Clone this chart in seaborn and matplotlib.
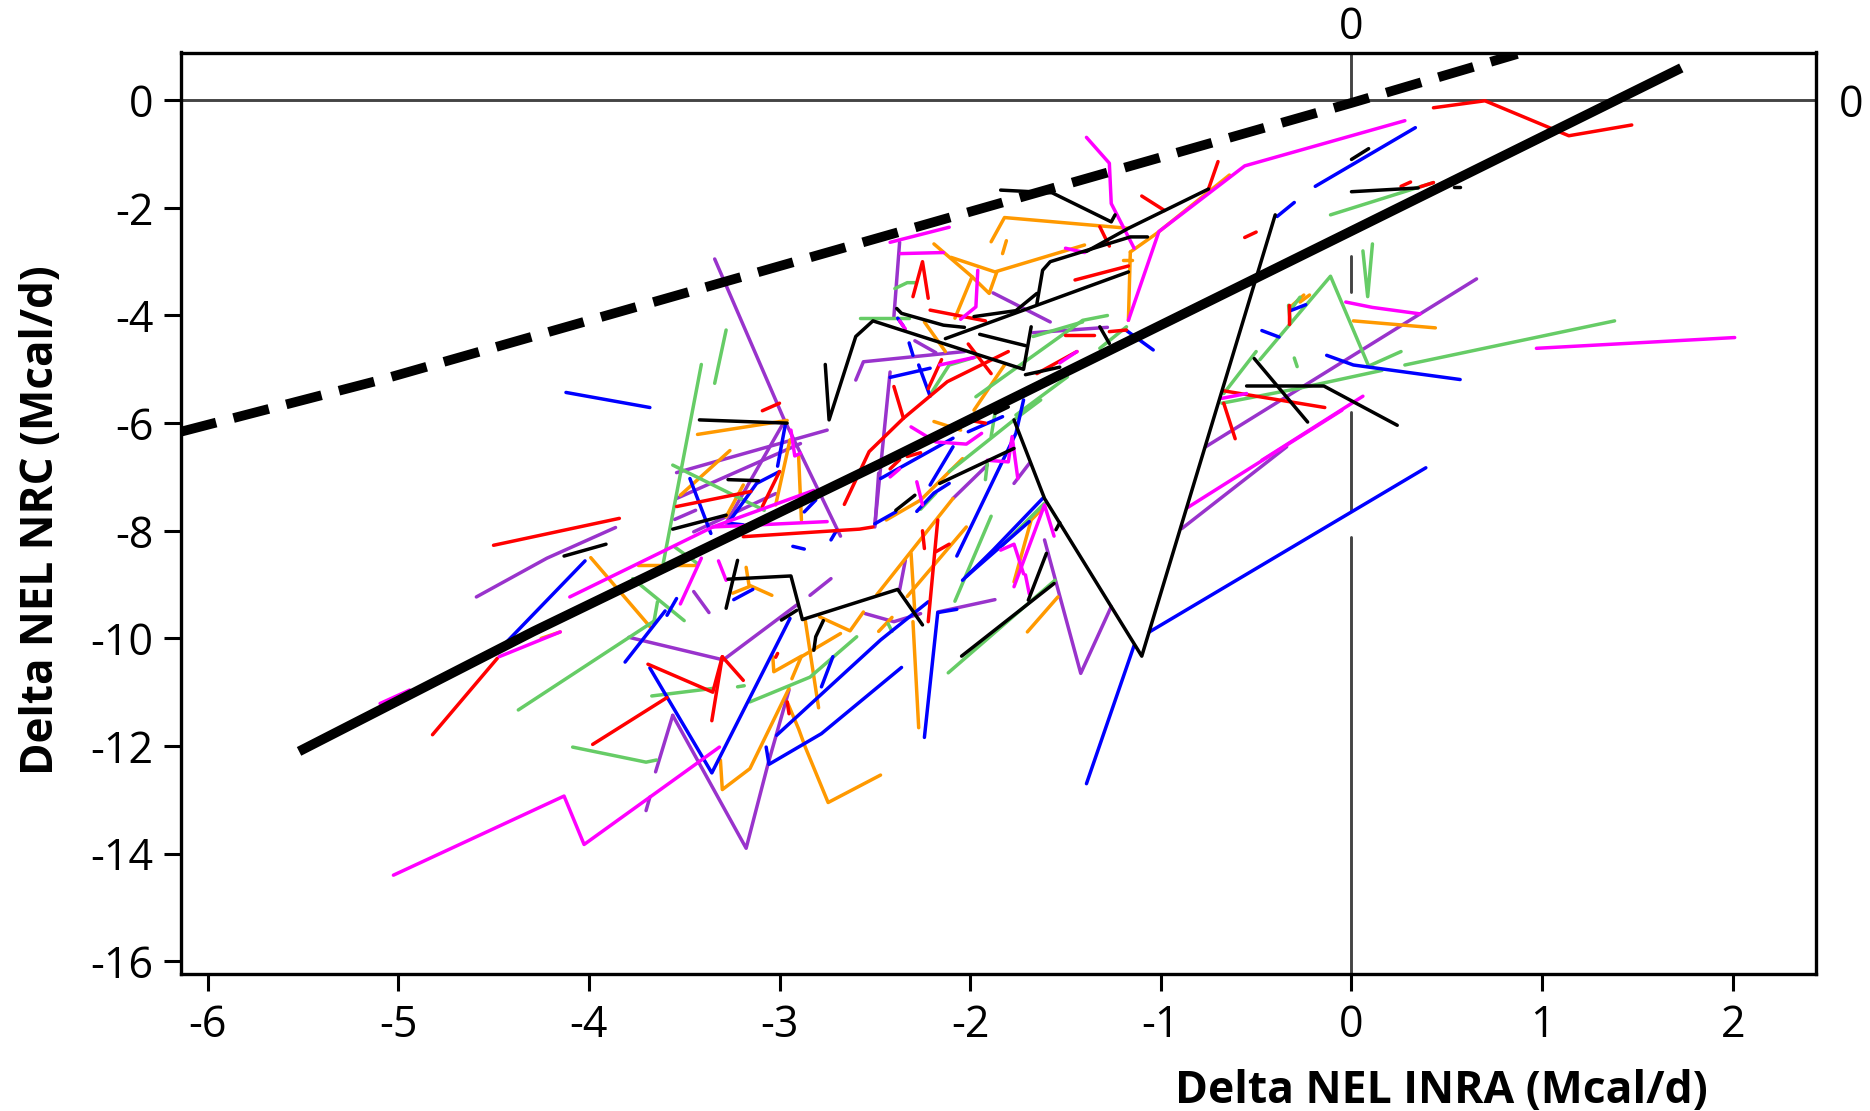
import matplotlib
matplotlib.use("Agg")
import matplotlib.pyplot as plt
import pandas as pd
import seaborn as sns

x_ticks = [-6, -5, -4, -3, -2, -1, 0, 1, 2]
y_ticks = [0, -2, -4, -6, -8, -10, -12, -14, -16]
x_label = "Delta NEL INRA (Mcal/d)"
y_label = "Delta NEL NRC (Mcal/d)"

regression_line = [(-5.52, -12.1), (-4.29, -9.87), (-2.47, -6.75), (0, -2.43), (1.73, 0.6)]
identity_line = [(-6.14, -6.16), (-5.095, -5.2), (0, -0.05), (0.87, 0.86)]
vref_visible = [(0.887, 0), (-2.9, -3.56), (-5.8, -7.62), (-8.11, -16.24)]

purple_lines = [
    [(-3.34, -2.95), (-2.98, -5.9), (-2.68, -8.1)],
    [(-3.54, -6.92), (-2.75, -6.13)], [(-3.54, -7.4), (-2.89, -6.38)], [(-2.98, -6.0), (-3.28, -7.86)],
    [(-3.55, -7.79), (-3.44, -7.62)], [(-3.45, -8.02), (-3.02, -7.31)],
    [(-4.59, -9.23), (-4.22, -8.51), (-3.86, -7.94)],
    [(-2.84, -9.2), (-2.73, -8.89)], [(-3.45, -9.13), (-3.37, -9.52)],
    [(-2.5, -7.93), (-2.48, -6.93)], [(-2.6, -5.2), (-2.56, -4.86), (-2.03, -4.67)],
    [(-3.56, -11.43), (-3.65, -12.48)],
    [(-3.56, -11.43), (-3.175, -13.9), (-3.06, -12.33), (-2.95, -10.96)],
    [(-3.79, -9.98), (-3.295, -10.4), (-2.91, -9.38)],
    [(-2.37, -2.64), (-2.40, -4.02)], [(-1.88, -3.58), (-1.58, -4.12)],
    [(-2.29, -4.47), (-2.18, -4.69)], [(-2.42, -5.05), (-2.5, -7.9)],
    [(-1.67, -4.32), (-1.28, -4.22)],
    [(-0.89, -7.96), (-0.34, -6.44)], [(-0.765, -6.44), (0.656, -3.32)],
    [(-1.61, -8.17), (-1.42, -10.65), (-1.26, -9.41)],
    [(-2.37, -9.1), (-2.34, -8.55)], [(-2.17, -9.51), (-1.87, -9.28)],
    [(-2.55, -9.54), (-2.4, -9.69), (-2.26, -9.54)],
    [(-2.09, -7.4), (-1.91, -6.78)], [(-1.77, -7.12), (-1.69, -6.75)],
    [(-3.7, -13.2), (-3.68, -12.95)],
]
orange_lines = [
    [(-3.43, -6.21), (-2.96, -5.95)], [(-2.945, -6.31), (-3.02, -7.52)], [(-2.9, -6.6), (-2.885, -7.8)],
    [(-3.52, -7.34), (-3.26, -6.51)], [(-3.19, -7.15), (-3.28, -7.74)],
    [(-3.99, -8.5), (-3.68, -9.78)], [(-3.74, -8.64), (-3.44, -8.64)],
    [(-3.175, -8.68), (-3.16, -9.01), (-3.04, -9.2)], [(-3.245, -9.16), (-3.16, -9.04)],
    [(-3.31, -12.26), (-3.3, -12.81), (-3.155, -12.42), (-2.95, -10.93)],
    [(-2.96, -11.18), (-2.9, -11.68), (-2.865, -12.02), (-2.745, -13.05), (-2.47, -12.54)],
    [(-2.795, -11.29), (-2.865, -9.66)],
    [(-3.035, -10.34), (-3.03, -10.62), (-2.885, -10.33), (-2.935, -10.75)],
    [(-2.885, -10.34), (-2.68, -9.91)], [(-2.79, -9.6), (-2.63, -9.86), (-2.56, -9.51)],
    [(-1.89, -2.63), (-1.82, -2.18), (-1.17, -2.38)], [(-1.81, -2.61), (-1.83, -2.85)],
    [(-2.19, -2.67), (-1.99, -3.28), (-2.08, -4.05)], [(-2.1, -2.92), (-1.87, -3.19), (-1.4, -2.69)],
    [(-1.99, -3.28), (-1.9, -3.59), (-1.86, -3.19)],
    [(-1.16, -2.82), (-1.17, -4.09)], [(-1.16, -2.82), (-1.02, -2.47), (-0.64, -1.39)],
    [(-1.2, -2.96), (-1.15, -2.96)], [(-2.24, -4.12), (-2.13, -4.67)], [(-1.82, -4.92), (-1.98, -5.76)],
    [(0.01, -4.1), (0.44, -4.23)], [(-0.31, -3.81), (-0.25, -3.62)], [(-0.27, -3.75), (-0.22, -3.62)],
    [(-1.70, -9.88), (-1.54, -9.23)], [(-1.77, -8.95), (-1.68, -7.8), (-1.61, -7.55)],
    [(-2.49, -9.19), (-2.09, -7.4)], [(-2.33, -9.22), (-2.02, -7.93)],
    [(-2.31, -8.42), (-2.29, -9.53)], [(-2.3, -9.69), (-2.27, -11.66)],
    [(-2.48, -9.87), (-2.41, -9.61)], [(-2.44, -7.8), (-2.26, -7.43), (-2.04, -6.66)],
    [(-2.19, -5.97), (-2.05, -6.13)], [(-4.25, -10.0), (-4.15, -9.88)],
]
green_lines = [
    [(-3.41, -4.91), (-3.61, -8.61)], [(-3.28, -4.27), (-3.34, -5.26)], [(-3.56, -6.78), (-3.08, -7.62)],
    [(-3.55, -8.3), (-3.43, -8.61)], [(-3.77, -8.89), (-3.5, -9.67)], [(-3.64, -9.32), (-3.66, -9.72)],
    [(-4.085, -12.02), (-3.7, -12.3), (-3.645, -12.26)], [(-3.67, -11.07), (-3.35, -10.93)],
    [(-4.37, -11.33), (-3.65, -9.66)], [(-3.155, -11.18), (-2.84, -10.72), (-2.595, -9.97)],
    [(-3.22, -10.9), (-3.185, -10.88)],
    [(-2.395, -3.5), (-2.33, -3.39), (-2.29, -3.39)], [(-2.58, -4.04), (-2.32, -4.04)],
    [(-2.2, -5.42), (-2.11, -4.92), (-1.97, -4.77)], [(-1.97, -5.51), (-1.41, -4.09), (-1.28, -4.0)],
    [(-1.32, -4.61), (-1.18, -4.21)], [(-1.49, -5.14), (-1.76, -5.85)], [(-1.67, -4.39), (-1.41, -4.12)],
    [(-0.11, -2.13), (0.43, -1.53)], [(0.06, -2.8), (0.085, -3.65), (0.11, -2.67)],
    [(-0.48, -4.82), (-0.11, -3.27), (0.09, -4.94), (0.26, -4.67)], [(-0.5, -4.67), (-0.67, -5.45)],
    [(-0.68, -5.63), (-0.285, -5.36), (0.16, -5.02)], [(0.28, -4.92), (1.38, -4.1)],
    [(-0.33, -3.81), (-0.32, -4.15)], [(-0.32, -3.9), (-0.27, -3.66)], [(-0.3, -4.79), (-0.285, -4.95)],
    [(-2.115, -10.64), (-1.555, -8.92)], [(-1.83, -8.27), (-1.61, -7.49)], [(-2.08, -9.31), (-1.89, -7.73)],
    [(-2.11, -6.9), (-1.77, -5.94), (-1.63, -5.57)], [(-1.92, -7.05), (-1.91, -6.75)],
    [(-2.43, -9.73), (-2.41, -9.87)], [(-2.26, -7.6), (-2.18, -7.3)], [(-1.89, -6.25), (-1.87, -5.82)],
]
blue_lines = [
    [(-4.12, -5.43), (-3.68, -5.71)], [(-2.97, -6.04), (-3.01, -6.8)], [(-3.47, -7.03), (-3.36, -8.05)],
    [(-3.0, -6.9), (-3.12, -7.12), (-3.27, -7.86), (-3.19, -7.89)], [(-4.02, -8.56), (-4.44, -10.1)],
    [(-3.24, -9.28), (-3.14, -9.09)], [(-3.54, -9.26), (-3.59, -9.57)], [(-3.6, -9.49), (-3.81, -10.44)],
    [(-2.93, -8.29), (-2.87, -8.34)], [(-2.87, -7.65), (-2.81, -7.43)], [(-2.73, -8.17), (-2.7, -7.99)],
    [(-3.68, -10.55), (-3.355, -12.5), (-2.945, -9.63)],
    [(-3.07, -12.02), (-3.055, -12.34), (-2.78, -11.77), (-2.36, -10.54)],
    [(-3.015, -11.8), (-2.47, -10.03), (-2.22, -9.32)], [(-2.78, -10.9), (-2.72, -10.34)],
    [(-2.32, -4.51), (-2.3, -4.74)], [(-2.42, -5.15), (-2.21, -4.98)], [(-2.27, -4.92), (-2.21, -5.5)],
    [(-2.38, -4.05), (-2.35, -4.2)], [(-1.18, -4.28), (-1.04, -4.64)],
    [(-0.39, -2.16), (-0.3, -1.9)], [(-0.19, -1.6), (0.335, -0.51)],
    [(-0.13, -4.74), (0.01, -4.92), (0.57, -5.19)], [(-0.47, -4.28), (-0.38, -4.4)], [(-0.32, -3.91), (-0.24, -3.8)],
    [(-1.39, -12.7), (-1.14, -10.13)], [(-1.06, -9.88), (0.39, -6.83)],
    [(-2.04, -8.92), (-1.88, -8.36), (-1.62, -7.4)], [(-2.02, -8.85), (-1.69, -7.83)],
    [(-2.07, -8.47), (-1.76, -6.19), (-1.72, -5.57)], [(-2.24, -11.84), (-2.17, -9.52), (-2.07, -9.46)],
    [(-2.47, -7.03), (-2.09, -6.28)], [(-2.21, -7.15), (-2.09, -6.44)], [(-2.5, -7.87), (-2.39, -7.65)],
    [(-2.28, -7.64), (-2.19, -7.3), (-2.11, -7.12)], [(-2.01, -6.16), (-1.83, -5.88)],
]
red_lines = [
    [(-3.09, -5.77), (-3.0, -5.63)], [(-3.54, -7.55), (-3.15, -7.27)], [(-3.0, -6.9), (-3.09, -7.55)],
    [(-3.19, -8.11), (-2.58, -7.97), (-2.51, -7.93)], [(-4.5, -8.27), (-3.84, -7.77)],
    [(-2.66, -7.51), (-2.53, -6.53), (-2.35, -5.91), (-2.12, -5.23), (-1.8, -4.67)],
    [(-3.98, -11.97), (-3.59, -11.1)], [(-3.69, -10.48), (-3.35, -11.0), (-3.3, -10.34), (-3.19, -10.78)],
    [(-3.355, -11.53), (-3.3, -10.34)], [(-4.82, -11.79), (-4.48, -10.37)],
    [(-3.02, -10.35), (-3.01, -10.28)], [(-2.96, -11.18), (-2.95, -11.4)],
    [(-2.3, -3.65), (-2.25, -3.0), (-2.22, -3.68)], [(-2.21, -3.9), (-1.92, -4.1)],
    [(-0.75, -1.65), (-0.7, -1.14)], [(-1.1, -1.78), (-0.98, -2.05)], [(-1.32, -2.35), (-1.27, -2.71)],
    [(-1.45, -3.34), (-1.17, -3.08)], [(-2.01, -4.53), (-1.89, -5.08)], [(-2.22, -5.36), (-2.15, -4.82)],
    [(-2.35, -5.91), (-2.4, -5.32)], [(-1.5, -4.36), (-1.35, -4.36)], [(-1.27, -4.3), (-1.18, -4.27)],
    [(-1.65, -5.08), (-1.44, -4.67)], [(-0.56, -2.55), (-0.5, -2.45)],
    [(0.43, -0.14), (0.70, -0.01), (1.14, -0.66), (1.47, -0.46)],
    [(0.26, -1.6), (0.31, -1.52)], [(0.36, -1.61), (0.43, -1.53)],
    [(-0.67, -5.4), (-0.14, -5.71)], [(-0.67, -5.63), (-0.61, -6.29)], [(-0.33, -3.8), (-0.33, -4.15)],
    [(-2.22, -9.69), (-2.17, -7.8)], [(-2.18, -8.39), (-2.11, -8.25)], [(-2.25, -8.0), (-2.24, -8.33)],
    [(-2.42, -6.85), (-2.37, -6.68)], [(-2.33, -6.62), (-2.26, -6.55)], [(-2.0, -5.95), (-1.92, -6.0)],
]
magenta_lines = [
    [(-2.94, -6.13), (-2.92, -6.61), (-2.89, -6.56)],
    [(-4.1, -9.23), (-3.35, -7.93), (-2.82, -7.25)], [(-3.35, -7.93), (-2.75, -7.83)],
    [(-3.41, -8.51), (-3.52, -9.36)], [(-3.32, -8.56), (-3.28, -8.92)],
    [(-5.025, -14.4), (-4.13, -12.93), (-4.025, -13.83), (-3.315, -12.02)],
    [(-5.095, -11.21), (-4.94, -10.96)], [(-4.47, -10.34), (-4.15, -9.88)],
    [(-1.39, -0.69), (-1.27, -1.17), (-1.26, -1.92), (-1.14, -2.75)],
    [(-1.17, -4.09), (-1.01, -2.44), (-0.56, -1.22), (0.28, -0.38)],
    [(-2.42, -2.64), (-2.11, -2.36)], [(-2.365, -2.85), (-2.14, -2.83)],
    [(-1.96, -3.16), (-1.97, -3.84), (-2.05, -4.07)], [(-1.5, -2.75), (-1.4, -2.83)],
    [(-2.16, -4.92), (-1.98, -4.78)], [(-1.53, -4.88), (-1.44, -4.67)], [(-2.37, -4.1), (-2.34, -4.25)],
    [(-0.03, -3.75), (0.11, -3.85), (0.36, -3.97)], [(-0.68, -5.54), (-0.55, -5.45)], [(-0.47, -6.69), (0.06, -5.5)],
    [(0.97, -4.61), (2.01, -4.41)], [(-0.86, -7.57), (-0.05, -5.76)],
    [(-1.77, -9.04), (-1.61, -7.52), (-1.56, -8.1)], [(-1.71, -8.82), (-1.69, -9.17)],
    [(-1.84, -8.36), (-1.77, -8.25), (-1.72, -8.8)],
    [(-2.31, -6.07), (-2.18, -6.35), (-2.02, -6.39), (-1.94, -6.19)],
    [(-1.91, -6.69), (-1.8, -6.72), (-1.78, -6.25), (-1.75, -7.03)],
    [(-2.42, -7.0), (-2.37, -6.85)], [(-2.28, -7.09), (-2.25, -7.52)],
]
black_lines = [
    [(-3.42, -5.94), (-2.96, -6.0)], [(-3.27, -7.05), (-3.11, -7.07)], [(-3.56, -7.97), (-3.28, -7.71)],
    [(-4.13, -8.47), (-3.91, -8.25)], [(-3.22, -8.55), (-3.28, -9.44)],
    [(-3.27, -8.9), (-2.94, -8.84), (-2.88, -9.65), (-2.38, -9.09), (-2.25, -9.75)],
    [(-2.99, -9.66), (-2.91, -9.48)], [(-2.82, -10.22), (-2.81, -9.97), (-2.77, -9.67)],
    [(-2.76, -4.91), (-2.74, -5.94), (-2.6, -4.39), (-2.51, -4.10), (-1.72, -5.0), (-1.68, -4.21)],
    [(-1.95, -4.35), (-1.71, -4.56)],
    [(-1.84, -1.67), (-1.57, -1.72), (-1.26, -2.26), (-1.24, -2.13)],
    [(-2.385, -3.87), (-2.36, -3.96), (-2.14, -4.18), (-2.03, -4.22)],
    [(-1.98, -4.02), (-1.76, -3.91), (-1.65, -3.59)],
    [(-1.65, -3.78), (-1.62, -3.16), (-1.58, -3.0), (-1.16, -2.54), (-1.07, -2.54)],
    [(-1.39, -2.81), (-1.17, -2.38), (-0.75, -1.65)], [(-2.13, -4.43), (-1.17, -3.19)],
    [(-1.32, -4.21), (-1.27, -4.52)], [(-1.71, -5.1), (-1.53, -4.96)],
    [(-1.77, -5.94), (-1.61, -7.4), (-1.10, -10.33), (-0.4, -2.13)],
    [(0.0, -1.1), (0.09, -0.9)], [(0.0, -1.7), (0.35, -1.63)], [(0.54, -1.61), (0.57, -1.61)],
    [(-0.55, -5.31), (-0.145, -5.31), (0.24, -6.04)], [(-0.51, -4.8), (-0.23, -5.98)],
    [(-1.695, -9.29), (-1.6, -8.42)], [(-1.55, -7.98), (-1.53, -7.85)], [(-2.045, -10.33), (-1.56, -8.98)],
    [(-2.16, -7.12), (-1.77, -6.47)], [(-2.39, -7.62), (-2.29, -7.34)], [(-1.87, -5.82), (-1.8, -5.7)],
]

plt.rcParams["axes.unicode_minus"] = False
sns.set_style("white")
plt.rcParams["font.family"] = ["Open Sans", "DejaVu Sans"]

fig = plt.figure(figsize=(18.70, 11.11), dpi=100)
ax = fig.add_axes([181.3 / 1870, 1 - 974.4 / 1111, (1816.3 - 181.3) / 1870, (974.4 - 52.5) / 1111])

ax.axhline(0, color="#444444", lw=2.1, zorder=1)
for top, bottom in vref_visible:
    ax.plot([0, 0], [top, bottom], color="#444444", lw=2.1, zorder=1)

groups = [
    ("purple", purple_lines, "#9933CC"),
    ("orange", orange_lines, "#FF9900"),
    ("green", green_lines, "#66CC66"),
    ("blue", blue_lines, "#0000FF"),
    ("red", red_lines, "#FF0000"),
    ("magenta", magenta_lines, "#FF00FF"),
    ("black", black_lines, "#000000"),
]
rows = []
for name, lines, _ in groups:
    for i, line in enumerate(lines):
        for order, (px, py) in enumerate(line):
            rows.append({"group": name, "unit": f"{name}{i}", "order": order, "x": px, "y": py})
df = pd.DataFrame(rows)
sns.lineplot(data=df, x="x", y="y", hue="group", units="unit", estimator=None, sort=False,
             palette={n: c for n, _, c in groups}, hue_order=[g[0] for g in groups],
             lw=2.5, legend=False, ax=ax, zorder=3)

reg = pd.DataFrame(regression_line, columns=["x", "y"])
sns.lineplot(data=reg, x="x", y="y", sort=False, estimator=None, color="black", lw=7.0, ax=ax, zorder=4,
             solid_capstyle="butt")
ide = pd.DataFrame(identity_line, columns=["x", "y"])
ax.plot(ide["x"], ide["y"], color="black", lw=7.0, zorder=4, dashes=(3.75, 1.85), dash_capstyle="butt")

ax.set_xlim(-6.1376, 2.438)
ax.set_ylim(-16.244, 0.887)
ax.set_xticks(x_ticks)
ax.set_yticks(y_ticks)
ax.tick_params(axis="both", direction="out", length=12, width=2.2, labelsize=31, color="black",
               labelcolor="black", pad=8, bottom=True, left=True)
ax.tick_params(axis="x", pad=9)
for s in ax.spines.values():
    s.set_linewidth(2.4)
    s.set_color("black")
    s.set_visible(True)
ax.set_xlabel("")
ax.set_ylabel("")

top = ax.secondary_xaxis("top")
top.set_xticks([0])
top.tick_params(length=0, labelsize=31, pad=2, labelcolor="black")
right = ax.secondary_yaxis("right")
right.set_yticks([0])
right.tick_params(length=0, labelsize=31, pad=16, labelcolor="black")
for sec in (top, right):
    for s in sec.spines.values():
        s.set_visible(False)

fig.text(1708 / 1870, 1 - 1091 / 1111, x_label, ha="right", va="center", fontsize=32, fontweight="bold",
         color="black")
fig.text(42 / 1870, 1 - 775 / 1111, y_label, ha="center", va="bottom", rotation=90, fontsize=31.7,
         fontweight="bold", color="black")

fig.savefig("out.png", dpi=100)
